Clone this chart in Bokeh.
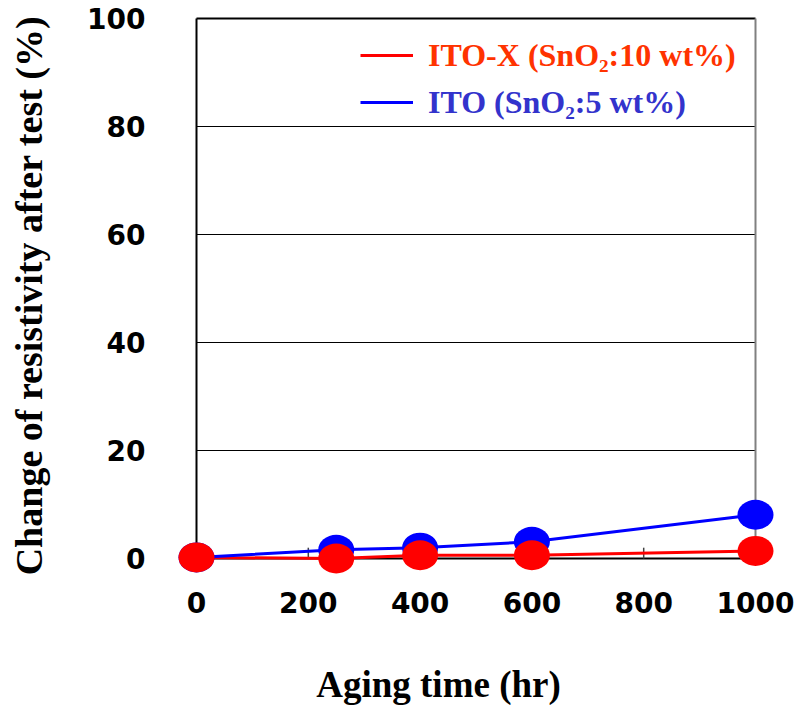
import math
from bokeh.plotting import figure
from bokeh.models import Range1d, FixedTicker, Legend, LegendItem
from bokeh.core.properties import value
from bokeh.embed import file_html
from bokeh.resources import INLINE

# Aging test: change of resistivity (%) versus aging time (hr)
aging_time = [0, 250, 400, 600, 1000]
ito_x_change = [0.2, 0.0, 0.6, 0.6, 1.4]   # ITO-X (SnO2: 10 wt%)
ito_change = [0.2, 1.6, 2.0, 3.1, 8.1]     # ITO (SnO2: 5 wt%)

x_ticks = [0, 200, 400, 600, 800, 1000]
y_ticks = [0, 20, 40, 60, 80, 100]

# canvas geometry (pixels); the frame fills the whole canvas and the
# axes are pinned at x = 0 / y = 0
W, H = 803, 705
X0_PX, X1000_PX = 196, 755      # where x = 0 and x = 1000 sit
Y0_PX, Y100_PX = 558, 18        # where y = 0 and y = 100 sit

sx = (X1000_PX - X0_PX) / 1000.0
sy = (Y0_PX - Y100_PX) / 100.0


def px_x(px):
    return (px - X0_PX) / sx


def px_y(py):
    return (Y0_PX - py) / sy


p = figure(width=W, height=H, output_backend="svg", toolbar_location=None,
           x_range=Range1d(px_x(0), px_x(W)), y_range=Range1d(px_y(H), px_y(0)),
           min_border_left=0, min_border_right=0,
           min_border_top=0, min_border_bottom=0)
p.outline_line_color = None
p.background_fill_color = "white"
p.border_fill_color = "white"
p.xgrid.visible = False
p.ygrid.visible = False

for ax in (p.xaxis[0], p.yaxis[0]):
    ax.fixed_location = 0
    ax.axis_line_color = None
    ax.major_tick_line_color = None
    ax.minor_tick_line_color = None
    ax.major_tick_out = 0
    ax.major_tick_in = 0
    ax.major_label_text_font = "DejaVu Sans"
    ax.major_label_text_font_style = "bold"
    ax.major_label_text_font_size = "28px"
    ax.major_label_text_color = "black"
p.xaxis[0].ticker = FixedTicker(ticks=x_ticks)
p.yaxis[0].ticker = FixedTicker(ticks=y_ticks)
p.xaxis[0].major_label_standoff = 33
p.yaxis[0].major_label_standoff = 51

# horizontal grid lines across the plot box
inner = [t for t in y_ticks if 0 < t < 100]
p.segment(x0=[0] * len(inner), x1=[1000] * len(inner), y0=inner, y1=inner,
          line_color="black", line_width=1)

# plot box
p.segment(x0=[0, 0, 0], x1=[0, 1000, 1000], y0=[0, 100, 0], y1=[100, 100, 0],
          line_color="black", line_width=2)
p.segment(x0=[1000], x1=[1000], y0=[0], y1=[100], line_color="#808080", line_width=2)

# small inward ticks on the time axis
inner_x = [t for t in x_ticks if 0 < t < 1000]
p.segment(x0=inner_x, x1=inner_x, y0=[0] * len(inner_x), y1=[2] * len(inner_x),
          line_color="#444444", line_width=1.5)

red_line = p.line(aging_time, ito_x_change, line_color="#ff0000", line_width=3)
blue_line = p.line(aging_time, ito_change, line_color="#0000ff", line_width=3)
p.ellipse(aging_time, ito_change, width=36, height=30, width_units="screen",
          height_units="screen", fill_color="#0000ff", line_color=None)
p.ellipse(aging_time, ito_x_change, width=36, height=30, width_units="screen",
          height_units="screen", fill_color="#ff0000", line_color=None)

# axis titles
p.text(x=[px_x(438)], y=[px_y(684)], text=["Aging time (hr)"],
       text_font=value("Liberation Serif"), text_font_style="bold",
       text_font_size="37px", text_align="center", text_baseline="middle",
       text_color="black")
p.text(x=[px_x(28)], y=[px_y(295)], text=["Change of resistivity after test (%)"],
       angle=math.pi / 2, text_font=value("Liberation Serif"), text_font_style="bold",
       text_font_size="38px", text_align="center", text_baseline="middle",
       text_color="black")

# two single-entry legends so each label keeps its own colour
for renderer, text, color, row_center in [
        (red_line, "ITO-X (SnO\u2082:10 wt%)", "#ff3300", 55),
        (blue_line, "ITO (SnO\u2082:5 wt%)", "#3333cc", 102)]:
    lg = Legend(items=[LegendItem(label=text, renderers=[renderer])],
                location=(360, H - row_center - 20),
                orientation="vertical", padding=0, margin=0, spacing=0,
                glyph_width=53, glyph_height=40, label_height=40,
                label_standoff=15, border_line_color=None,
                background_fill_alpha=0,
                label_text_font="Liberation Serif", label_text_font_style="bold",
                label_text_font_size="32px", label_text_color=color)
    p.add_layout(lg, "center")

open("out.html", "w").write(file_html(p, INLINE))
